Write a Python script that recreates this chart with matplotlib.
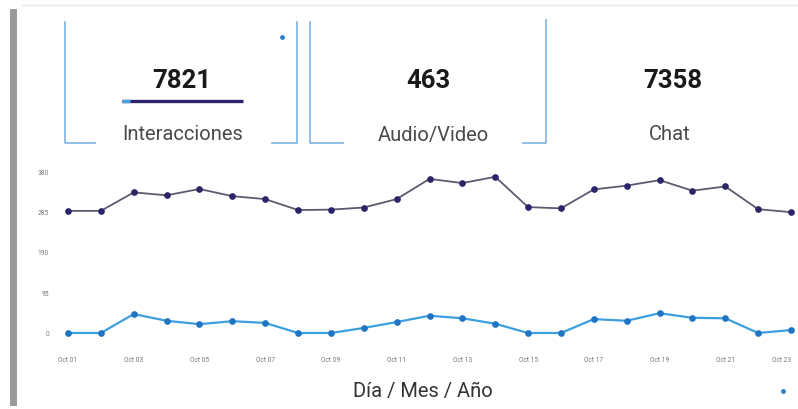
import matplotlib
matplotlib.use("Agg")
import matplotlib.pyplot as plt
from matplotlib.lines import Line2D

plt.rcParams['font.family'] = ['Roboto', 'DejaVu Sans']

# ---- data ----
dates = ["Oct 01", "Oct 02", "Oct 03", "Oct 04", "Oct 05", "Oct 06", "Oct 07", "Oct 08",
         "Oct 09", "Oct 10", "Oct 11", "Oct 12", "Oct 13", "Oct 14", "Oct 15", "Oct 16",
         "Oct 17", "Oct 18", "Oct 19", "Oct 20", "Oct 21", "Oct 22", "Oct 23"]
chat = [290, 290, 334, 327, 342, 325, 318, 292, 293, 298, 318, 366, 356, 371,
        299, 296, 341, 350, 363, 338, 348, 294, 287]
audio_video = [0, 0, 45, 29, 21, 28, 24, 0, 0, 12, 26, 41, 35, 22,
               0, 0, 33, 29, 47, 36, 35, 0, 7]
y_ticks = [0, 95, 190, 285, 380]
kpi_values = ["7821", "463", "7358"]
kpi_labels = ["Interacciones", "Audio/Video", "Chat"]
x_title = "Día / Mes / Año"

W, H = 798, 409
fig = plt.figure(figsize=(W / 100, H / 100), dpi=100)
fig.patch.set_facecolor("white")

# overlay in pixel coordinates for card decorations
ov = fig.add_axes([0, 0, 1, 1])
ov.set_xlim(0, W)
ov.set_ylim(H, 0)
ov.axis("off")

# photo edge artefacts
ov.add_line(Line2D([13, 13], [12, 402], color="#9a9a9a", lw=5))
ov.add_line(Line2D([22, 798], [5, 5], color="#e6e6e6", lw=1))

bc = "#7fb3e0"
# card 1 brackets
ov.add_line(Line2D([65, 65, 95], [22, 143, 143], color=bc, lw=1.2))
ov.add_line(Line2D([297, 297, 272], [22, 143, 143], color=bc, lw=1.2))
# card 2 brackets
ov.add_line(Line2D([310, 310, 343], [22, 143, 143], color=bc, lw=1.2))
ov.add_line(Line2D([546, 546, 523], [20, 143, 143], color=bc, lw=1.2))

# small dots
ov.plot([282], [37], "o", color="#2f7fd0", ms=2.5)
ov.plot([783], [391], "o", color="#2f7fd0", ms=2.5)

# underline under first KPI
ov.add_line(Line2D([122, 243], [101, 101], color="#2b2468", lw=2.4, solid_capstyle="butt"))
ov.add_line(Line2D([122, 130], [101, 101], color="#4aa0e0", lw=2.4, solid_capstyle="butt"))

kpi_x = [182, 428, 673]
lab_x = [183, 433, 670]
for xv, xl, v, l in zip(kpi_x, lab_x, kpi_values, kpi_labels):
    ov.text(xv, 81, v, ha="center", va="center", fontsize=18.5, fontweight="bold", color="#1a1a1a")
    ov.text(xl, 135, l, ha="center", va="center", fontsize=14.5, color="#4a4a4a")

ov.text(423, 392, x_title, ha="center", va="center", fontsize=14.5, color="#333333")

# ---- line chart ----
x = list(range(len(dates)))
px_per_unit = (791 - 68) / 22
left_px, right_px = 60, 798
y0_px, y380_px = 333, 173
ppv = (y0_px - y380_px) / 380
bot_px, top_px = 345, 165

ax = fig.add_axes([left_px / W, 1 - bot_px / H, (right_px - left_px) / W, (bot_px - top_px) / H])
ax.set_xlim((left_px - 68) / px_per_unit, (right_px - 68) / px_per_unit)
ax.set_ylim(-(bot_px - y0_px) / ppv, (y0_px - top_px) / ppv)
ax.patch.set_alpha(0)

ax.plot(x, chat, color="#5c5a6e", lw=1.3, marker="o", ms=3.8,
        markerfacecolor="#2b2468", markeredgecolor="#2b2468", zorder=3)
ax.plot(x, audio_video, color="#3d9ee0", lw=1.6, marker="o", ms=3.8,
        markerfacecolor="#1f74c4", markeredgecolor="#1f74c4", zorder=3)

for s in ax.spines.values():
    s.set_visible(False)
ax.set_yticks(y_ticks)
ax.set_yticklabels([str(t) for t in y_ticks])
ax.set_xticks(x[::2])
ax.set_xticklabels(dates[::2])
ax.tick_params(axis="both", length=0, labelsize=4.8, labelcolor="#777777")
ax.tick_params(axis="y", pad=8)
ax.tick_params(axis="x", pad=9)
ax.get_xticklabels()[-1].set_horizontalalignment("right")

fig.savefig("out.png", dpi=100)
